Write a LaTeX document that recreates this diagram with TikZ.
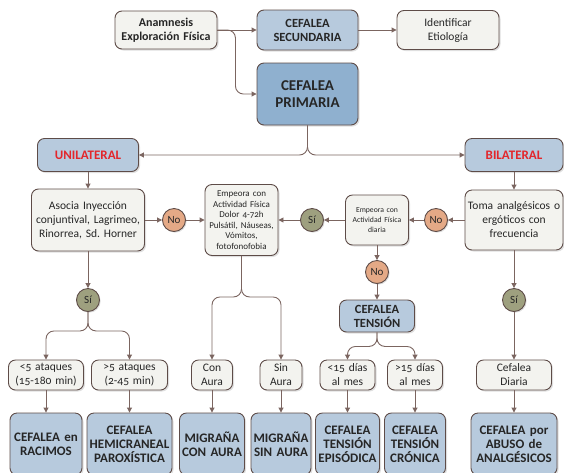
\documentclass[tikz,border=0pt]{standalone}
\usepackage{fontspec}
\setmainfont{Carlito}[Numbers=OldStyle]
\usetikzlibrary{positioning,shadows,arrows.meta}

\definecolor{boxline}{HTML}{5E4C48}
\definecolor{lineclr}{HTML}{7B6560}
\definecolor{paleblue}{HTML}{B7CADD}
\definecolor{midblue}{HTML}{8FB0CF}
\definecolor{offwhite}{HTML}{F3F3EF}
\definecolor{noclr}{HTML}{E4A986}
\definecolor{siclr}{HTML}{9EA07F}
\definecolor{redtxt}{HTML}{E3262B}
\definecolor{txt}{HTML}{262626}

\newcommand{\fnorm}{\fontsize{11.5}{14}\selectfont}
\newcommand{\fsmall}{\fontsize{9}{10.5}\selectfont}
\newcommand{\fsmaller}{\fontsize{7.7}{10}\selectfont}
\newcommand{\fbold}{\bfseries\fontsize{13}{14}\selectfont}
\newcommand{\fboldm}{\bfseries\fontsize{12.5}{14}\selectfont}

\tikzset{
  basebox/.style={draw=boxline, line width=0.9pt, rounded corners=7pt, align=center,
    inner sep=0pt, text=txt,
    drop shadow={shadow xshift=1.5pt, shadow yshift=-1.5pt, opacity=0.25}},
  lightbox/.style={basebox, fill=offwhite},
  bluebox/.style={basebox, fill=paleblue, font=\fbold},
  darkbox/.style={basebox, fill=midblue, font=\bfseries\fontsize{15}{17}\selectfont},
  wh/.style 2 args={text width=#1pt, minimum width=#1pt, minimum height=#2pt},
  answer/.style={circle, draw=boxline, line width=0.9pt, minimum size=23pt, inner sep=0pt,
    text=txt, font=\fontsize{11}{12}\selectfont,
    drop shadow={shadow xshift=1.2pt, shadow yshift=-1.2pt, opacity=0.25}},
  nocirc/.style={answer, fill=noclr},
  sicirc/.style={answer, fill=siclr},
  conn/.style={draw=lineclr, line width=0.9pt, -{Triangle[length=5pt,width=5pt]}},
  fork/.style={conn, rounded corners=8pt},
}

\begin{document}
\begin{tikzpicture}[x=1pt, y=-1pt]
  \useasboundingbox (0,0) rectangle (564,472);

  % Top row
  \node[lightbox, wh={102}{38}, font=\bfseries\fontsize{12}{14}\selectfont] (ana) at (166,30) {Anamnesis\\Exploración Física};
  \node[bluebox, wh={101}{40}, font=\fboldm] (sec) at (307.5,30) {CEFALEA\\SECUNDARIA};
  \node[lightbox, wh={102}{39}, font=\fnorm] (ide) at (448,30) {Identificar\\Etiología};
  \node[darkbox, wh={101}{62}] (pri) at (307.5,94) {CEFALEA\\PRIMARIA};

  % Unilateral / bilateral
  \node[bluebox, wh={101}{33}, text=redtxt] (uni) at (88,155) {UNILATERAL};
  \node[bluebox, wh={98}{33}, text=redtxt] (bil) at (514,155) {BILATERAL};

  % Questions
  \node[lightbox, wh={113}{62}, font=\fnorm] (aso) at (88,220) {Asocia Inyección\\conjuntival, Lagrimeo,\\Rinorrea, Sd.\ Horner};
  \node[nocirc] (no1) at (174,220) {No};
  \node[lightbox, wh={73}{71}, font=\fsmall] (emp1) at (241.5,220) {Empeora con\\Actividad Física\\Dolor 4-72h\\Pulsátil, Náuseas,\\Vómitos,\\fotofonofobia};
  \node[sicirc] (si2) at (312,220) {Sí};
  \node[lightbox, wh={63}{50}, font=\fsmaller] (emp2) at (377,220) {Empeora con\\Actividad Física\\diaria};
  \node[nocirc] (no2) at (436,220) {No};
  \node[lightbox, wh={98}{60}, font=\fnorm] (tom) at (514,220) {Toma analgésicos o\\ergóticos con\\frecuencia};

  \node[sicirc] (si1) at (88,300) {Sí};
  \node[nocirc] (no3) at (377,272) {No};
  \node[bluebox, wh={75}{32}, font=\fboldm] (ten) at (377,316) {CEFALEA\\TENSIÓN};
  \node[sicirc] (si3) at (514,300) {Sí};

  % Criteria
  \node[lightbox, wh={75}{30}, font=\fnorm] (a5) at (46,375) {<5 ataques\\(15-180 min)};
  \node[lightbox, wh={76}{30}, font=\fnorm] (b5) at (129.5,375) {>5 ataques\\(2-45 min)};
  \node[lightbox, wh={41}{30}, font=\fnorm] (con) at (212,375) {Con\\Aura};
  \node[lightbox, wh={42}{30}, font=\fnorm] (sin) at (281,375) {Sin\\Aura};
  \node[lightbox, wh={55}{30}, font=\fnorm] (d15a) at (347.5,375) {<15 días\\al mes};
  \node[lightbox, wh={55}{30}, font=\fnorm] (d15b) at (415,375) {>15 días\\al mes};
  \node[lightbox, wh={75}{30}, font=\fnorm] (dia) at (514,375) {Cefalea\\Diaria};

  % Diagnoses
  \node[bluebox, wh={72}{62}] (rac) at (46,444) {CEFALEA en\\RACIMOS};
  \node[bluebox, wh={85}{62}] (hem) at (129.5,444) {CEFALEA\\HEMICRANEAL\\PAROXÍSTICA};
  \node[bluebox, wh={65}{62}] (mca) at (212,444) {MIGRAÑA\\CON AURA};
  \node[bluebox, wh={60}{62}] (msa) at (281,444) {MIGRAÑA\\SIN AURA};
  \node[bluebox, wh={64}{62}] (epi) at (347.5,444) {CEFALEA\\TENSIÓN\\EPISÓDICA};
  \node[bluebox, wh={61}{62}] (cro) at (415,444) {CEFALEA\\TENSIÓN\\CRÓNICA};
  \node[bluebox, wh={86}{62}] (abu) at (514,444) {CEFALEA por\\ABUSO de\\ANALGÉSICOS};

  % Connectors
  \draw[conn] (ana) -- (sec);
  \draw[fork] (ana.east) -- ++(18,0) |- (pri.west);
  \draw[conn] (sec) -- (ide);
  \draw[fork] (pri.south) |- (uni.east);
  \draw[fork] (pri.south) |- (bil.west);

  \draw[conn] (uni) -- (aso);
  \draw[conn] (aso) -- (no1);
  \draw[conn] (no1) -- (emp1);
  \draw[conn] (bil) -- (tom);
  \draw[conn] (tom) -- (no2);
  \draw[conn] (no2) -- (emp2);
  \draw[conn] (emp2) -- (si2);
  \draw[conn] (si2) -- (emp1);
  \draw[conn] (emp2) -- (no3);
  \draw[conn] (no3) -- (ten);

  \draw[conn] (aso) -- (si1);
  \draw[fork] (si1.south) -- ++(0,19) -| (a5.north);
  \draw[fork] (si1.south) -- ++(0,19) -| (b5.north);
  \draw[fork] (emp1.south) -- ++(0,41) -| (con.north);
  \draw[fork] (emp1.south) -- ++(0,41) -| (sin.north);
  \draw[fork] (ten.south) -- ++(0,14) -| (d15a.north);
  \draw[fork] (ten.south) -- ++(0,14) -| (d15b.north);
  \draw[conn] (tom) -- (si3);
  \draw[conn] (si3) -- (dia);

  \draw[conn] (a5) -- (rac);
  \draw[conn] (b5) -- (hem);
  \draw[conn] (con) -- (mca);
  \draw[conn] (sin) -- (msa);
  \draw[conn] (d15a) -- (epi);
  \draw[conn] (d15b) -- (cro);
  \draw[conn] (dia) -- (abu);
\end{tikzpicture}
\end{document}
